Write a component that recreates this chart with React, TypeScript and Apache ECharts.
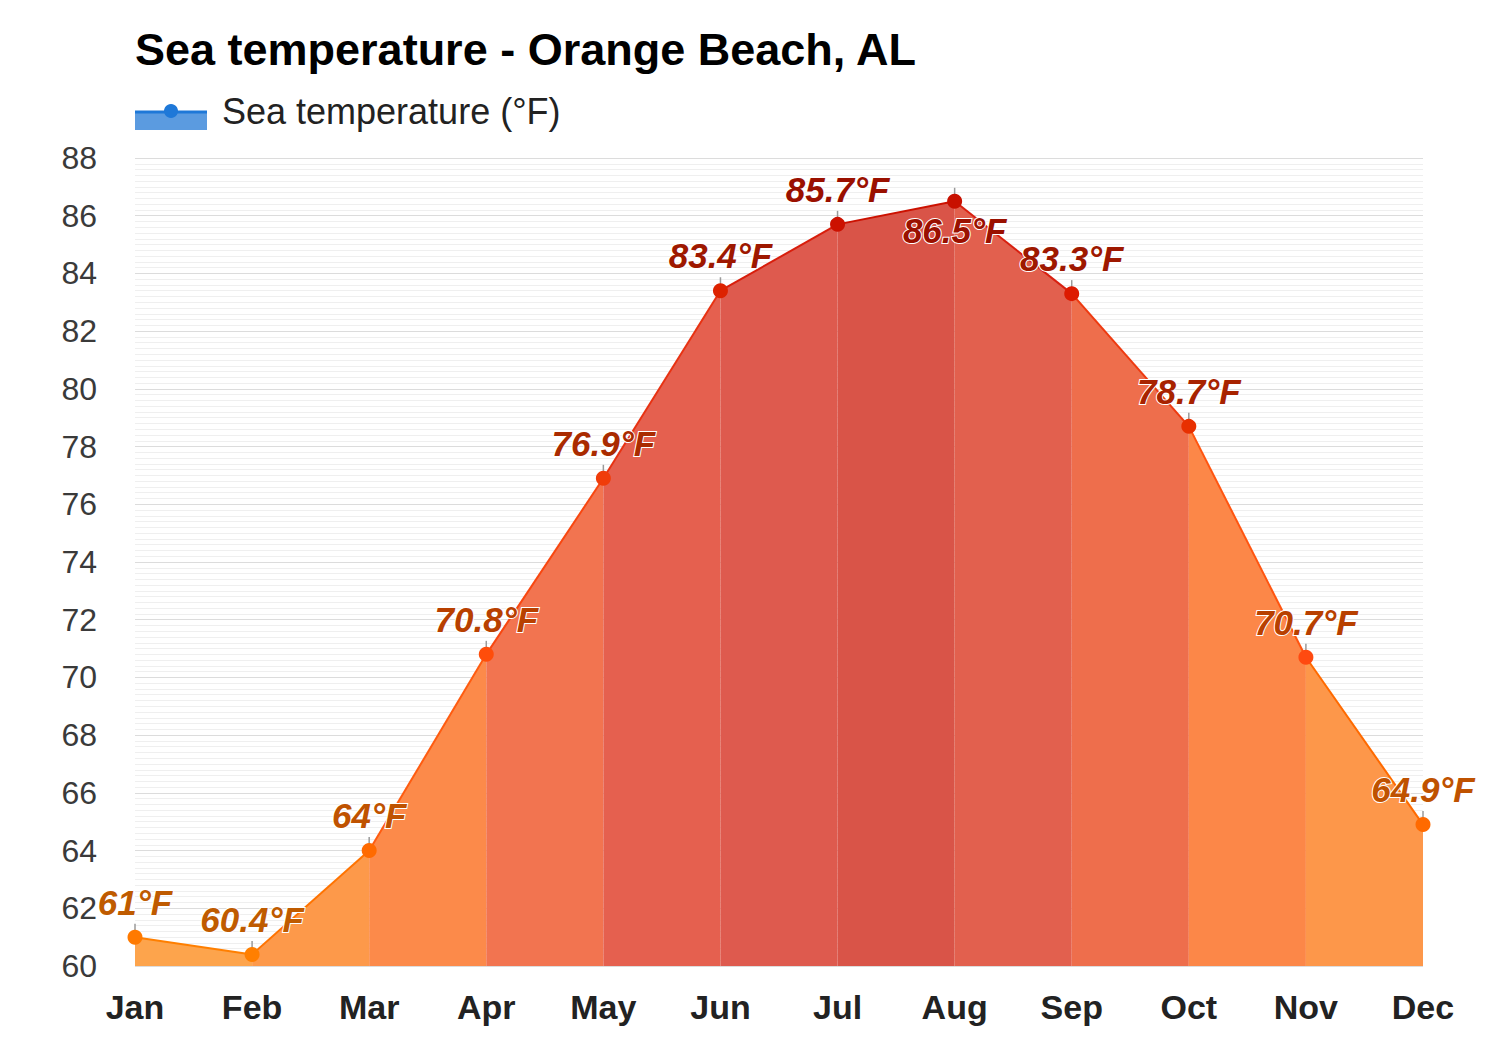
import React, { useEffect, useRef } from "react";
import * as echarts from "echarts";

const months = ["Jan", "Feb", "Mar", "Apr", "May", "Jun", "Jul", "Aug", "Sep", "Oct", "Nov", "Dec"];
const seaTemp = [61, 60.4, 64, 70.8, 76.9, 83.4, 85.7, 86.5, 83.3, 78.7, 70.7, 64.9];
const segmentFill = ["#FDA44C", "#FD994A", "#FC8A4A", "#F27450", "#E5604F", "#DE5A4E", "#D95448", "#E2604E", "#EE6E4C", "#FC8748", "#FD974A"];
const segmentLine = ["#FF7F00", "#FF7300", "#FF5C10", "#F84710", "#E83212", "#D81E0C", "#CC1100", "#D82010", "#EE3A10", "#FF5510", "#FF6A00"];
const markerColors = ["#FF7A00", "#FF7F00", "#FF6A00", "#FF4D0A", "#F03C0A", "#DD2200", "#CC1100", "#C81000", "#DD1A00", "#E83000", "#FF4A10", "#FF6A00"];
const labelColors = ["#BF5B00", "#BF5B00", "#BF5200", "#B84000", "#AA2B00", "#9E1800", "#9A1000", "#9A1000", "#9E1800", "#A82300", "#B84000", "#BF5200"];
const labelBelow = [false, false, false, false, false, false, false, true, false, false, false, false];
const yTicks = { min: 60, max: 88, interval: 2 };

export default function App() {
  const ref = useRef<HTMLDivElement>(null);
  useEffect(() => {
    if (!ref.current) return;
    const chart = echarts.init(ref.current, null, { renderer: "svg" });
    const font = "'Liberation Sans', Arial, sans-serif";

    const segSeries = segmentFill.map((fill, i) => ({
      type: "line",
      data: seaTemp.map((v, j) => (j === i || j === i + 1 ? v : "-")),
      showSymbol: false,
      symbol: "none",
      connectNulls: false,
      lineStyle: { color: segmentLine[i], width: 2 },
      areaStyle: { color: fill, opacity: 1, origin: "start" },
      z: 2,
      silent: true,
    }));

    const option: any = {
      animation: false,
      backgroundColor: "#ffffff",
      grid: { left: 135, right: 77, top: 158, bottom: 84, containLabel: false },
      xAxis: {
        type: "category",
        data: months,
        boundaryGap: false,
        axisLine: { show: false },
        axisTick: { show: false },
        splitLine: { show: false },
        axisLabel: { color: "#222", fontSize: 34, fontWeight: "bold", fontFamily: font, margin: 24 },
      },
      yAxis: {
        type: "value",
        min: yTicks.min,
        max: yTicks.max,
        interval: yTicks.interval,
        axisLine: { show: false },
        axisTick: { show: false },
        axisLabel: { color: "#3a3a3a", fontSize: 32, fontFamily: font, margin: 38 },
        splitLine: { show: true, lineStyle: { color: "#dcdcdc", width: 1 } },
        minorTick: { show: false, splitNumber: 10 },
        minorSplitLine: { show: true, lineStyle: { color: "#efefef", width: 1 } },
      },
      graphic: [
        {
          type: "text",
          left: 135,
          top: 27,
          style: { text: "Sea temperature - Orange Beach, AL", fontSize: 45, fontWeight: "bold", fontFamily: font, fill: "#000" },
        },
        { type: "rect", shape: { x: 135, y: 112, width: 72, height: 18 }, style: { fill: "#5B9BE0" } },
        { type: "line", shape: { x1: 135, y1: 112, x2: 207, y2: 112 }, style: { stroke: "#1E78D8", lineWidth: 3 } },
        { type: "circle", shape: { cx: 171, cy: 111, r: 7 }, style: { fill: "#1E78D8" } },
        {
          type: "text",
          left: 222,
          top: 93,
          style: { text: "Sea temperature (°F)", fontSize: 36, fontFamily: font, fill: "#222" },
        },
      ],
      series: [
        ...segSeries,
        {
          type: "scatter",
          data: seaTemp,
          symbol: "rect",
          symbolSize: [1.5, 13],
          symbolOffset: [0, -7],
          itemStyle: { color: "#9a9a9a", opacity: 1 },
          z: 3,
          silent: true,
        },
        {
          type: "scatter",
          name: "Sea temperature (°F)",
          data: seaTemp.map((v, i) => ({
            value: v,
            itemStyle: { color: markerColors[i], opacity: 1 },
            label: {
              show: true,
              position: labelBelow[i] ? "bottom" : "top",
              distance: labelBelow[i] ? 4 : 10,
              formatter: `${v}°F`,
              color: labelColors[i],
              opacity: 1,
              fontSize: 35,
              fontWeight: "bold",
              fontStyle: "italic",
              fontFamily: font,
              textBorderColor: "#ffffff",
              textBorderWidth: 2,
            },
          })),
          itemStyle: { opacity: 1 },
          symbol: "circle",
          symbolSize: 15,
          z: 4,
          silent: true,
        },
      ],
    };
    chart.setOption(option);
    return () => chart.dispose();
  }, []);
  return <div ref={ref} style={{ width: 1500, height: 1050, margin: -8 }} />;
}
